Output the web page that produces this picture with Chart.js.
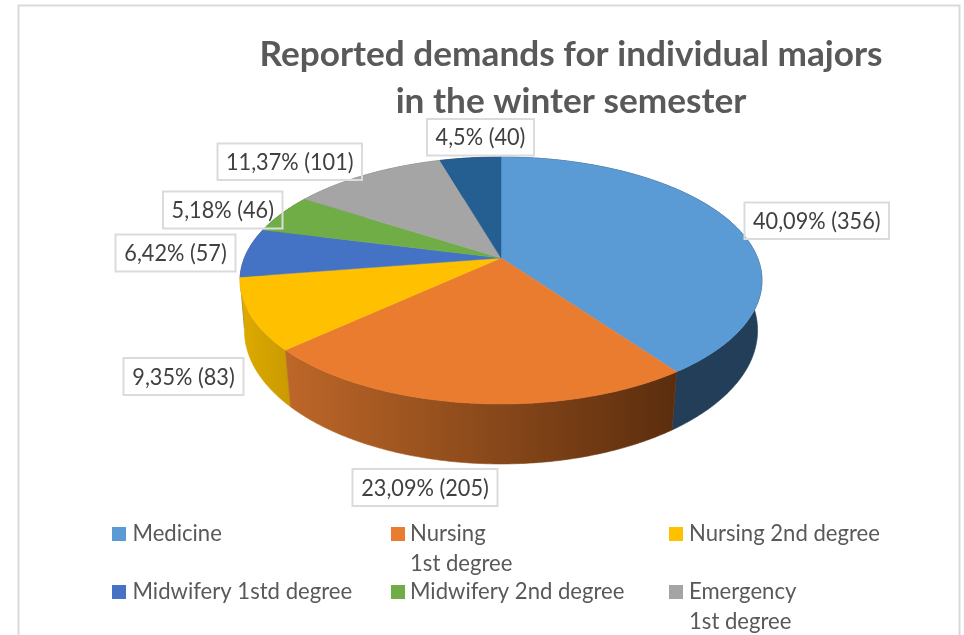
<!DOCTYPE html>
<html>
<head>
<meta charset="utf-8">
<style>html,body{margin:0;padding:0;background:#fff;overflow:hidden}canvas{display:block}</style>
<script src="https://cdn.jsdelivr.net/npm/chart.js@4/dist/chart.umd.js"></script>
</head>
<body>
<canvas id="c" width="964" height="635"></canvas>
<script>
const titleLines = ['Reported demands for individual majors', 'in the winter semester'];
const categories = ['Medicine', 'Nursing 1st degree', 'Nursing 2nd degree', 'Midwifery 1std degree', 'Midwifery 2nd degree', 'Emergency 1st degree', ''];
const counts = [356, 205, 83, 57, 46, 101, 40];
const percents = ['40,09', '23,09', '9,35', '6,42', '5,18', '11,37', '4,5'];
const topColors = ['#5B9BD5', '#EA7C30', '#FFC000', '#4472C4', '#70AD47', '#A5A5A5', '#255E91'];
const sideColors = [['#233E58', '#233E58'], ['#BC6628', '#5C2E0E'], ['#DDA900', '#C99A00'], ['#2F5088', '#2F5088'], ['#4E7A32', '#4E7A32'], ['#737373', '#737373'], ['#1A4266', '#1A4266']];
const legendLines = [['Medicine'], ['Nursing', '1st degree'], ['Nursing 2nd degree'], ['Midwifery 1std degree'], ['Midwifery 2nd degree'], ['Emergency', '1st degree']];

// Label box per slice: left, top, right, bottom
const labelBoxes = [[744.5, 202.5, 889, 239], [352.5, 469, 497.5, 506], [123.5, 358, 243.5, 395], [115.5, 234.5, 235.5, 271.5], [163, 191.5, 282.5, 228.5], [217.5, 143.5, 362, 180], [427, 119, 534, 155.5]];
const legendCols = [112, 391, 669];
const legendTextCols = [132.5, 410, 689];
const legendRows = [527, 585];

// Perspective of the disc, relative to the library's outer radius
const TOP = {a: 0.9946, b: 0.4628, k: 0.182, dy: 0};
const BOTTOM = {a: 0.98, b: 0.5027, k: 0.17, dy: 49.7};
function project(el, theta, p) {
  const X = Math.sin(theta), Y = -Math.cos(theta), w = 1 - p.k * Y, r = el.outerRadius;
  return {x: el.x + r * p.a * X / w, y: el.y + p.dy + r * p.b * Y / w};
}
function sweep(el) {
  const s = el.startAngle + Math.PI / 2, e = el.endAngle + Math.PI / 2, pts = [];
  const n = Math.max(2, Math.ceil((e - s) / 0.01));
  for (let i = 0; i <= n; i++) pts.push(s + (e - s) * i / n);
  return pts;
}

class Arc3D extends Chart.ArcElement {
  static id = 'arc3d';
  drawSide(ctx, stops) {
    const th = sweep(this), a = th.map(t => project(this, t, TOP)), b = th.map(t => project(this, t, BOTTOM));
    const xs = b.map(p => p.x), g = ctx.createLinearGradient(Math.min(...xs), 0, Math.max(...xs), 0);
    g.addColorStop(0, stops[0]); g.addColorStop(1, stops[1]);
    ctx.beginPath();
    a.forEach((p, i) => i ? ctx.lineTo(p.x, p.y) : ctx.moveTo(p.x, p.y));
    b.reverse().forEach(p => ctx.lineTo(p.x, p.y));
    ctx.closePath();
    ctx.fillStyle = g; ctx.strokeStyle = g; ctx.lineWidth = 0.6;
    ctx.fill(); ctx.stroke();
  }
  draw(ctx) {
    ctx.beginPath();
    ctx.moveTo(this.x, this.y);
    sweep(this).forEach(t => { const p = project(this, t, TOP); ctx.lineTo(p.x, p.y); });
    ctx.closePath();
    ctx.fillStyle = this.options.backgroundColor;
    ctx.strokeStyle = this.options.backgroundColor; ctx.lineWidth = 0.5;
    ctx.fill(); ctx.stroke();
  }
}
class Pie3D extends Chart.PieController {
  static id = 'pie3d';
  static defaults = {dataElementType: 'arc3d'};
  draw() {
    const ctx = this.chart.ctx, els = this.getMeta().data;
    const depth = el => -Math.cos((el.startAngle + el.endAngle) / 2 + Math.PI / 2);
    els.map((el, i) => [el, i]).sort((p, q) => depth(p[0]) - depth(q[0]))
       .forEach(([el, i]) => el.drawSide(ctx, sideColors[i]));
    super.draw();
  }
}
Chart.register(Arc3D, Pie3D);

// Text in a taller face, condensed to the width it has at `base` px
function condensed(ctx, s, x, y, size, base, weight) {
  ctx.font = weight + ' ' + base + 'px Lato';
  const w = ctx.measureText(s).width;
  ctx.font = weight + ' ' + size + 'px Lato';
  ctx.fillText(s, x, y, w);
}

const decorations = {
  id: 'decorations',
  beforeDraw(chart) {
    const ctx = chart.ctx;
    ctx.save();
    ctx.fillStyle = '#fff'; ctx.fillRect(0, 0, 964, 635);
    ctx.strokeStyle = '#D9D9D9'; ctx.lineWidth = 2;
    ctx.strokeRect(18.5, 5.5, 941, 700);
    ctx.restore();
  },
  afterDraw(chart) {
    const ctx = chart.ctx;
    ctx.save();
    ctx.textAlign = 'center'; ctx.textBaseline = 'alphabetic';
    ctx.fillStyle = '#595959';
    ctx.font = 'bold 35.2px Lato';
    ctx.fillText(titleLines[0], 571, 65.5);
    ctx.fillText(titleLines[1], 571, 112.5);

    ctx.strokeStyle = '#DBDBDB'; ctx.lineWidth = 2;
    ctx.fillStyle = '#404040';
    counts.forEach((n, i) => {
      const [l, t, r, b] = labelBoxes[i];
      ctx.strokeRect(l, t, r - l, b - t);
      condensed(ctx, percents[i] + '% (' + n + ')', (l + r) / 2, (t + b) / 2 + 8, 24, 21.7, 'normal');
    });

    ctx.textAlign = 'left';
    legendLines.forEach((lines, i) => {
      const x = legendCols[i % 3], y = legendRows[Math.floor(i / 3)];
      ctx.fillStyle = topColors[i]; ctx.fillRect(x, y, 14, 14);
      ctx.fillStyle = '#595959';
      lines.forEach((s, j) => condensed(ctx, s, legendTextCols[i % 3], y + 14 + j * 29.5, 24, 22.1, 'normal'));
    });
    ctx.restore();
  }
};

new Chart(document.getElementById('c'), {
  type: 'pie3d',
  data: {labels: categories, datasets: [{data: counts, backgroundColor: topColors, borderWidth: 0}]},
  options: {
    responsive: false, animation: false,
    layout: {padding: {left: 241, right: 203, top: 0, bottom: 119}},
    plugins: {legend: {display: false}, title: {display: false}, tooltip: {enabled: false}}
  },
  plugins: [decorations]
});
</script>
</body>
</html>
